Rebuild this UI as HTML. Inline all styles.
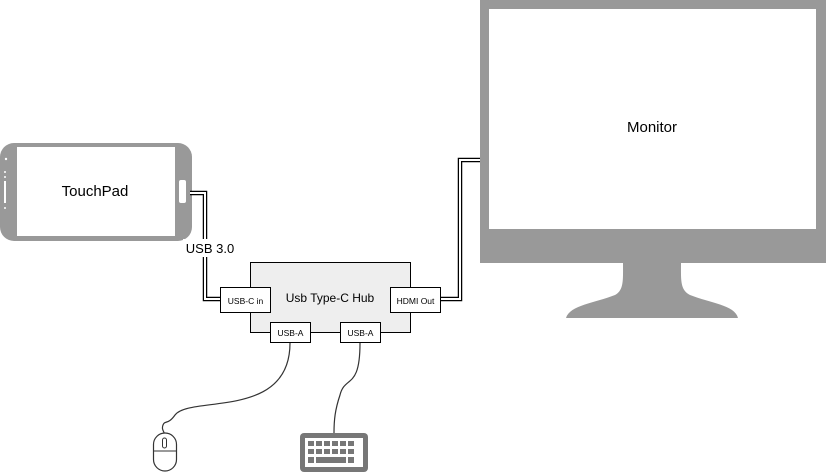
<!DOCTYPE html>
<html><head><style>
html,body{margin:0;padding:0;background:#fff;}
svg{display:block;}
text{font-family:"Liberation Sans",Arial,sans-serif;}
</style></head><body>
<svg width="826" height="473" viewBox="0 0 826 473" xmlns="http://www.w3.org/2000/svg">
<!-- Monitor -->
<rect x="480" y="0" width="346" height="263" fill="#999"/>
<rect x="489" y="9" width="327" height="220" fill="#fff"/>
<path d="M623,263 L681,263 C681,280 680,290 690,295 C710,303 735,305 738,318 L566,318 C570,305 595,303 615,295 C624,290 623,280 623,263 Z" fill="#999"/>
<text x="652" y="132" font-size="15" text-anchor="middle">Monitor</text>
<!-- Phone -->
<rect x="0" y="143" width="192" height="98" rx="14" fill="#999"/>
<rect x="17" y="147" width="158" height="89" fill="#fff"/>
<rect x="179" y="180" width="7" height="23" rx="2" fill="#fff"/>
<circle cx="6" cy="159" r="1.2" fill="#fff"/>
<circle cx="5" cy="172" r="1" fill="#fff"/><circle cx="5" cy="177" r="1" fill="#fff"/>
<rect x="4" y="181" width="2" height="22" fill="#fff"/>
<circle cx="5" cy="208" r="1" fill="#fff"/>
<text x="95" y="196" font-size="15" text-anchor="middle">TouchPad</text>
<!-- USB cable (double line) -->
<path d="M190,193 L205,193 L205,299 L220,299" fill="none" stroke="#000" stroke-width="4.5"/>
<path d="M190,193 L205,193 L205,299 L220,299" fill="none" stroke="#fff" stroke-width="2"/>
<rect x="183" y="239" width="56" height="18" fill="#fff"/>
<text x="210" y="253" font-size="13" text-anchor="middle">USB 3.0</text>
<!-- HDMI cable -->
<path d="M440,299 L460,299 L460,160 L480,160" fill="none" stroke="#000" stroke-width="4.5"/>
<path d="M440,299 L460,299 L460,160 L480,160" fill="none" stroke="#fff" stroke-width="2"/>
<!-- Hub -->
<rect x="250.5" y="262.5" width="160" height="70" fill="#eee" stroke="#000"/>
<text x="330" y="302" font-size="12" text-anchor="middle">Usb Type-C Hub</text>
<rect x="220.5" y="287.5" width="50" height="25" fill="#fff" stroke="#000"/>
<text x="245.5" y="304" font-size="8.5" text-anchor="middle">USB-C in</text>
<rect x="390.5" y="287.5" width="50" height="25" fill="#fff" stroke="#000"/>
<text x="415.5" y="304" font-size="8.5" text-anchor="middle">HDMI Out</text>
<rect x="270.5" y="322.5" width="40" height="20" fill="#fff" stroke="#000"/>
<text x="290.5" y="336" font-size="8.5" text-anchor="middle">USB-A</text>
<rect x="340.5" y="322.5" width="40" height="20" fill="#fff" stroke="#000"/>
<text x="360.5" y="336" font-size="8.5" text-anchor="middle">USB-A</text>
<!-- cables -->
<path d="M290,343 C290,420 190,395 175,415 C168,425 165,420 163,425 C161,430 165,432 165,436" fill="none" stroke="#333" stroke-width="1.2"/>
<path d="M360,343 C360,390 345,375 340,395 C335,410 334,420 334,433" fill="none" stroke="#333" stroke-width="1.2"/>
<!-- Mouse -->
<rect x="153.5" y="433" width="23" height="38" rx="11.5" fill="#fff" stroke="#333" stroke-width="1.2"/>
<line x1="154" y1="451" x2="176" y2="451" stroke="#333" stroke-width="1"/>
<rect x="162.5" y="438" width="4" height="10" rx="2" fill="none" stroke="#333" stroke-width="1"/>
<!-- Keyboard -->
<rect x="300" y="433" width="68" height="39" rx="4" fill="#777"/>
<rect x="305" y="438" width="58" height="29" fill="#fff"/>
<g fill="#777">
<rect x="308" y="441" width="6" height="5"/><rect x="316" y="441" width="6" height="5"/><rect x="324" y="441" width="6" height="5"/><rect x="332" y="441" width="6" height="5"/><rect x="340" y="441" width="6" height="5"/><rect x="348" y="441" width="6" height="5"/>
<rect x="308" y="449" width="6" height="5"/><rect x="316" y="449" width="6" height="5"/><rect x="324" y="449" width="6" height="5"/><rect x="332" y="449" width="6" height="5"/><rect x="340" y="449" width="6" height="5"/><rect x="348" y="449" width="6" height="5"/>
<rect x="308" y="457" width="6" height="6"/><rect x="316" y="457" width="30" height="6"/><rect x="348" y="457" width="6" height="6"/>
</g>
</svg>
</body></html>
